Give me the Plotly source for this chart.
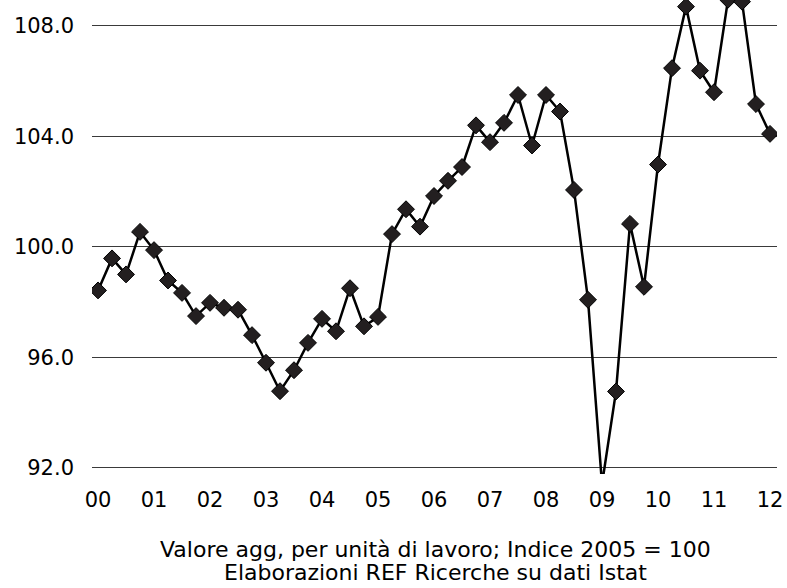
import plotly.graph_objects as go

quarters = [f"{y}Q{q}" for y in range(2000, 2012) for q in range(1, 5)] + ["2012Q1"]

values = [
    98.42, 99.58, 99.00, 100.54,   # 2000
    99.88, 98.78, 98.33, 97.49,    # 2001
    97.97, 97.79, 97.72, 96.80,    # 2002
    95.80, 94.77, 95.53, 96.52,    # 2003
    97.39, 96.94, 98.50, 97.12,    # 2004
    97.46, 100.46, 101.36, 100.73, # 2005
    101.84, 102.39, 102.89, 104.40,# 2006
    103.79, 104.49, 105.50, 103.67,# 2007
    105.50, 104.90, 102.06, 98.08, # 2008
    91.40, 94.76, 100.83, 98.55,   # 2009
    102.98, 106.47, 108.70, 106.38,# 2010
    105.60, 108.95, 108.88, 105.17,# 2011
    104.09,                        # 2012
]

tick_positions = [q for q in quarters if q.endswith("Q1")]
tick_labels = ["00", "01", "02", "03", "04", "05", "06", "07", "08", "09", "10", "11", "12"]
y_ticks = [92, 96, 100, 104, 108]
y_tick_labels = ["92.0", "96.0", "100.0", "104.0", "108.0"]

subtitle_lines = [
    "Valore agg, per unità di lavoro; Indice 2005 = 100",
    "Elaborazioni REF Ricerche su dati Istat",
]

PLOT_H = 474

fig = go.Figure()
fig.add_trace(go.Scatter(
    x=quarters, y=values, mode="lines+markers",
    line=dict(color="#000000", width=2.5),
    marker=dict(symbol="diamond", size=13, color="#231f20",
                line=dict(color="#000000", width=1)),
    showlegend=False,
))

fig.update_layout(
    width=787, height=588,
    margin=dict(l=92, r=10, t=0, b=588 - PLOT_H, autoexpand=False),
    paper_bgcolor="white", plot_bgcolor="white",
    xaxis=dict(
        type="category", categoryorder="array", categoryarray=quarters,
        range=[-0.43, 48.5], automargin=False,
        tickmode="array", tickvals=tick_positions, ticktext=tick_labels,
        showgrid=False, zeroline=False, showline=False, ticks="",
        ticklabelstandoff=11,
        tickfont=dict(family="DejaVu Sans", size=21, color="#000000"),
    ),
    yaxis=dict(
        range=[91.77, 108.94], automargin=False,
        tickmode="array", tickvals=y_ticks, ticktext=y_tick_labels,
        showgrid=True, gridcolor="#3a3a3a", gridwidth=1,
        zeroline=False, showline=False, ticks="",
        ticklabelstandoff=17,
        tickfont=dict(family="DejaVu Sans", size=21, color="#000000"),
    ),
)

for i, line in enumerate(subtitle_lines):
    fig.add_annotation(
        text=line, xref="paper", yref="paper",
        x=0.502, y=-(75 + 23 * i) / PLOT_H, xanchor="center", yanchor="middle",
        showarrow=False,
        font=dict(family="DejaVu Sans", size=22, color="#000000"),
    )

fig.write_html("out.html",
               config={"displayModeBar": False},
               post_script="document.body.style.margin='0';document.body.style.overflow='hidden';")
